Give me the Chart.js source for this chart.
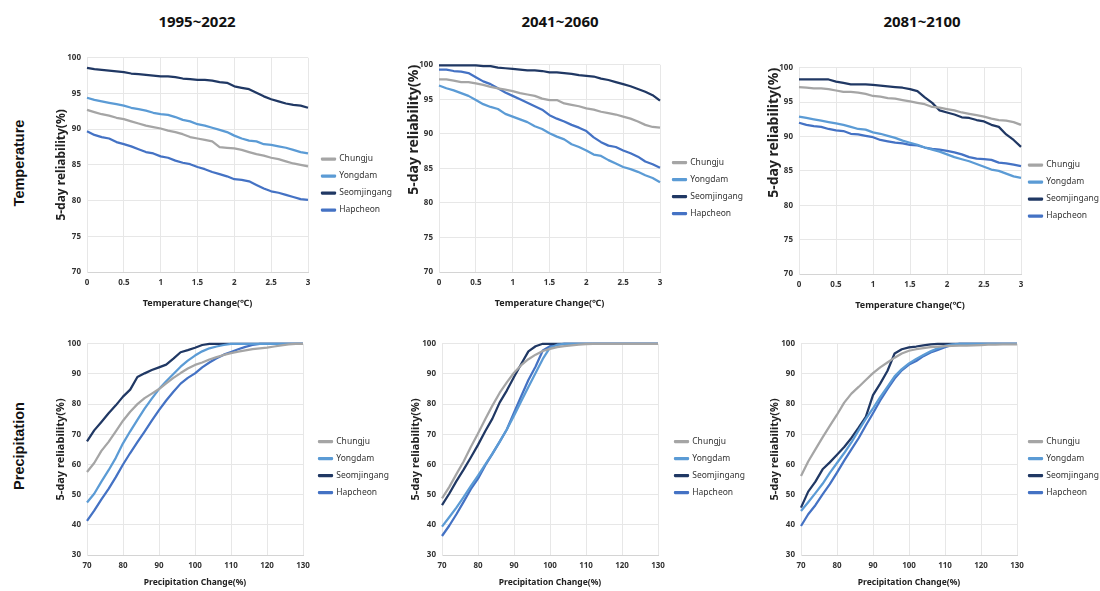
<!DOCTYPE html>
<html>
<head>
<meta charset="utf-8">
<script src="https://cdn.jsdelivr.net/npm/chart.js@4.4.0/dist/chart.umd.min.js"></script>
<style>
  html, body { margin: 0; padding: 0; background: #fff; }
  #page { position: relative; width: 1100px; height: 591px; overflow: hidden; background: #fff; }
  #page canvas { position: absolute; }
  .col-title { position: absolute; top: 11px; width: 200px; margin-left: -100px; text-align: center;
    font: bold 15px 'Noto Sans', sans-serif; color: #111; }
  .row-title { position: absolute; white-space: nowrap; transform: translate(-50%, -50%) rotate(-90deg);
    font: bold 14.5px 'Liberation Sans', Arial, sans-serif; color: #111; }
</style>
</head>
<body>
<div id="page"></div>
<script>
// Labels ----------------------
const STATIONS = ['Chungju', 'Yongdam', 'Seomjingang', 'Hapcheon'];
const PERIODS = ['1995~2022', '2041~2060', '2081~2100'];
const ROWS = ['Temperature', 'Precipitation'];

// x values and ticks ----------
const TEMP_X = [0, 0.1, 0.2, 0.3, 0.4, 0.5, 0.6, 0.7, 0.8, 0.9, 1, 1.1, 1.2, 1.3, 1.4, 1.5, 1.6, 1.7, 1.8, 1.9, 2, 2.1, 2.2, 2.3, 2.4, 2.5, 2.6, 2.7, 2.8, 2.9, 3];
const PRECIP_X = [70, 72, 74, 76, 78, 80, 82, 84, 86, 88, 90, 92, 94, 96, 98, 100, 102, 104, 106, 108, 110, 112, 114, 116, 118, 120, 122, 124, 126, 128, 130];
const TEMP_X_TICKS = [0, 0.5, 1, 1.5, 2, 2.5, 3];
const TEMP_Y_TICKS = [70, 75, 80, 85, 90, 95, 100];
const PRECIP_X_TICKS = [70, 80, 90, 100, 110, 120, 130];
const PRECIP_Y_TICKS = [30, 40, 50, 60, 70, 80, 90, 100];

// Temperature, 1995~2022
const t1995Chungju = [92.7, 92.4, 92.1, 91.9, 91.6, 91.4, 91.1, 90.8, 90.5, 90.3, 90.1, 89.8, 89.6, 89.3, 88.9, 88.7, 88.5, 88.3, 87.5, 87.4, 87.3, 87.1, 86.8, 86.5, 86.3, 86.0, 85.8, 85.5, 85.2, 85.0, 84.8];
const t1995Yongdam = [94.4, 94.1, 93.9, 93.7, 93.5, 93.3, 93.0, 92.8, 92.6, 92.3, 92.1, 92.0, 91.7, 91.3, 91.1, 90.7, 90.5, 90.2, 89.9, 89.6, 89.1, 88.7, 88.4, 88.3, 87.9, 87.8, 87.6, 87.4, 87.1, 86.8, 86.6];
const t1995Seomjingang = [98.6, 98.4, 98.3, 98.2, 98.1, 98.0, 97.8, 97.7, 97.6, 97.5, 97.4, 97.4, 97.3, 97.1, 97.0, 96.9, 96.9, 96.8, 96.6, 96.5, 96.0, 95.8, 95.6, 95.1, 94.6, 94.2, 93.9, 93.6, 93.4, 93.3, 93.0];
const t1995Hapcheon = [89.7, 89.2, 88.9, 88.7, 88.2, 87.9, 87.6, 87.2, 86.8, 86.6, 86.2, 86.0, 85.6, 85.3, 85.1, 84.7, 84.4, 84.0, 83.7, 83.4, 83.0, 82.9, 82.7, 82.2, 81.7, 81.3, 81.1, 80.8, 80.5, 80.2, 80.1];

// Temperature, 2041~2060
const t2041Chungju = [97.9, 97.9, 97.7, 97.5, 97.5, 97.3, 97.1, 96.8, 96.6, 96.4, 96.2, 95.9, 95.7, 95.5, 95.1, 94.9, 94.9, 94.4, 94.2, 94.0, 93.7, 93.5, 93.2, 93.0, 92.8, 92.5, 92.2, 91.8, 91.3, 91.0, 90.9];
const t2041Yongdam = [97.0, 96.6, 96.3, 95.9, 95.5, 94.9, 94.3, 93.9, 93.6, 92.9, 92.5, 92.1, 91.7, 91.1, 90.7, 90.1, 89.6, 89.2, 88.5, 88.1, 87.6, 87.0, 86.8, 86.2, 85.7, 85.2, 84.9, 84.5, 84.0, 83.6, 83.0];
const t2041Seomjingang = [99.9, 99.9, 99.9, 99.9, 99.9, 99.9, 99.8, 99.8, 99.6, 99.5, 99.4, 99.3, 99.2, 99.2, 99.1, 98.9, 98.9, 98.8, 98.7, 98.5, 98.4, 98.3, 98.0, 97.8, 97.5, 97.2, 96.9, 96.5, 96.1, 95.6, 94.8];
const t2041Hapcheon = [99.3, 99.3, 99.1, 99.0, 98.8, 98.2, 97.6, 97.2, 96.6, 96.0, 95.5, 95.0, 94.5, 94.0, 93.5, 92.7, 92.2, 91.8, 91.3, 90.9, 90.4, 89.5, 88.8, 88.3, 88.1, 87.6, 87.2, 86.7, 86.0, 85.6, 85.1];

// Temperature, 2081~2100
const t2081Chungju = [97.2, 97.1, 97.0, 97.0, 96.9, 96.7, 96.5, 96.5, 96.4, 96.2, 95.9, 95.8, 95.6, 95.5, 95.3, 95.1, 94.9, 94.7, 94.3, 94.2, 94.0, 93.8, 93.5, 93.3, 93.1, 92.9, 92.6, 92.4, 92.3, 92.1, 91.7];
const t2081Yongdam = [92.9, 92.7, 92.5, 92.3, 92.1, 91.9, 91.7, 91.4, 91.1, 91.0, 90.6, 90.4, 90.1, 89.8, 89.4, 89.1, 88.8, 88.4, 88.1, 87.8, 87.4, 87.0, 86.7, 86.4, 86.0, 85.6, 85.2, 85.0, 84.6, 84.2, 84.0];
const t2081Seomjingang = [98.3, 98.3, 98.3, 98.3, 98.3, 98.0, 97.8, 97.6, 97.6, 97.6, 97.5, 97.4, 97.3, 97.2, 97.1, 96.9, 96.6, 95.7, 94.9, 93.8, 93.5, 93.2, 92.8, 92.7, 92.4, 92.2, 91.7, 91.4, 90.3, 89.5, 88.5];
const t2081Hapcheon = [92.0, 91.7, 91.5, 91.4, 91.1, 90.9, 90.8, 90.4, 90.3, 90.1, 89.9, 89.5, 89.3, 89.1, 89.0, 88.8, 88.7, 88.4, 88.2, 88.1, 87.9, 87.7, 87.4, 87.0, 86.8, 86.7, 86.6, 86.2, 86.1, 85.9, 85.7];

// Precipitation, 1995~2022
const p1995Chungju = [57.5, 60.5, 64.5, 67.5, 71.0, 74.5, 77.5, 80.0, 82.0, 83.5, 85.0, 86.9, 88.7, 90.3, 91.8, 93.0, 93.8, 94.8, 95.6, 96.3, 96.9, 97.4, 97.8, 98.2, 98.5, 98.7, 99.1, 99.5, 99.8, 100, 100];
const p1995Yongdam = [47.4, 50.3, 54.3, 58.1, 62.2, 67.0, 71.0, 74.8, 78.5, 81.8, 85.0, 87.6, 90.0, 92.4, 94.4, 96.1, 97.5, 98.5, 99.1, 99.6, 100, 100, 100, 100, 100, 100, 100, 100, 100, 100, 100];
const p1995Seomjingang = [67.7, 71.3, 74.1, 77.0, 79.6, 82.5, 84.8, 89.0, 90.2, 91.3, 92.2, 93.1, 95.1, 97.2, 97.9, 98.7, 99.6, 100, 100, 100, 100, 100, 100, 100, 100, 100, 100, 100, 100, 100, 100];
const p1995Hapcheon = [41.3, 44.7, 48.4, 51.9, 55.8, 60.0, 63.8, 67.4, 70.9, 74.5, 78.0, 81.2, 84.1, 86.8, 88.7, 90.2, 92.2, 93.8, 95.2, 96.4, 97.3, 98.2, 99.0, 99.6, 100, 100, 100, 100, 100, 100, 100];

// Precipitation, 2041~2060
const p2041Chungju = [48.8, 52.5, 56.8, 61.0, 65.8, 70.3, 75.0, 79.5, 83.7, 87.2, 90.4, 92.9, 94.9, 96.4, 97.6, 98.3, 98.9, 99.2, 99.5, 99.7, 99.9, 100, 100, 100, 100, 100, 100, 100, 100, 100, 100];
const p2041Yongdam = [39.4, 42.5, 45.7, 49.2, 52.8, 56.3, 60.0, 63.6, 67.5, 71.6, 76.2, 81.0, 85.7, 90.3, 95.0, 98.7, 99.7, 100, 100, 100, 100, 100, 100, 100, 100, 100, 100, 100, 100, 100, 100];
const p2041Seomjingang = [46.5, 50.3, 54.5, 58.3, 62.3, 66.5, 71.0, 75.2, 80.5, 84.5, 89.0, 93.3, 97.5, 99.2, 100, 100, 100, 100, 100, 100, 100, 100, 100, 100, 100, 100, 100, 100, 100, 100, 100];
const p2041Hapcheon = [36.3, 39.7, 43.5, 47.6, 51.8, 55.3, 59.7, 63.5, 67.5, 71.6, 77.2, 82.6, 88.0, 92.5, 97.8, 99.2, 99.7, 100, 100, 100, 100, 100, 100, 100, 100, 100, 100, 100, 100, 100, 100];

// Precipitation, 2081~2100
const p2081Chungju = [56.2, 61.0, 65.0, 69.0, 72.8, 76.5, 80.5, 83.5, 85.7, 88.0, 90.3, 92.2, 93.8, 95.4, 96.8, 97.7, 98.2, 98.6, 98.9, 99.1, 99.2, 99.3, 99.4, 99.4, 99.5, 99.6, 99.7, 99.7, 99.8, 99.8, 99.8];
const p2081Yongdam = [44.6, 47.5, 50.5, 53.6, 57.2, 60.5, 63.8, 67.3, 71.3, 75.1, 78.6, 82.3, 85.7, 89.2, 91.6, 93.5, 95.0, 96.3, 97.5, 98.5, 99.3, 99.8, 100, 100, 100, 100, 100, 100, 100, 100, 100];
const p2081Seomjingang = [45.7, 51.0, 54.3, 58.4, 60.7, 63.2, 65.8, 68.8, 72.2, 75.8, 83.0, 86.8, 91.0, 96.8, 98.2, 98.8, 99.1, 99.5, 99.8, 100, 100, 100, 100, 100, 100, 100, 100, 100, 100, 100, 100];
const p2081Hapcheon = [39.6, 43.5, 46.5, 50.1, 53.5, 57.3, 61.3, 65.0, 68.7, 72.9, 77.0, 81.2, 85.0, 88.5, 91.2, 93.1, 94.3, 95.9, 97.1, 98.0, 98.9, 99.6, 100, 100, 100, 100, 100, 100, 100, 100, 100];

// Styles ----------------------
const COLORS = ['#A5A5A5', '#5B9BD5', '#203864', '#4472C4'];
const FONT = "'Noto Sans', sans-serif";
const TEXT_COLOR = '#333';
const GRID_COLOR = '#e7e7e7';
const Y_W = 36;
const PAD_T = 10;
const LEG_W = 62;
const PAD_R = 30;
const LEGEND_FONT = 8.5;

// panel layout: plot box [left, top, right, bottom] in page pixels
const PANELS = [
  { kind: 'temp', series: [t1995Chungju, t1995Yongdam, t1995Seomjingang, t1995Hapcheon], plot: [87, 57, 308, 272], xH: 40, yTitleSize: 12, yAlign: 'center', gap: 14 },
  { kind: 'temp', series: [t2041Chungju, t2041Yongdam, t2041Seomjingang, t2041Hapcheon], plot: [439, 64, 660, 272], xH: 40, yTitleSize: 14, yAlign: 'end', gap: 13 },
  { kind: 'temp', series: [t2081Chungju, t2081Yongdam, t2081Seomjingang, t2081Hapcheon], plot: [799, 67, 1021, 274], xH: 40, yTitleSize: 14, yAlign: 'end', gap: 8 },
  { kind: 'precip', series: [p1995Chungju, p1995Yongdam, p1995Seomjingang, p1995Hapcheon], plot: [87, 343, 303, 555], xH: 36, yTitleSize: 11, yAlign: 'center', gap: 16 },
  { kind: 'precip', series: [p2041Chungju, p2041Yongdam, p2041Seomjingang, p2041Hapcheon], plot: [442, 343, 658, 555], xH: 36, yTitleSize: 11, yAlign: 'center', gap: 17 },
  { kind: 'precip', series: [p2081Chungju, p2081Yongdam, p2081Seomjingang, p2081Hapcheon], plot: [801, 343, 1017, 555], xH: 36, yTitleSize: 11, yAlign: 'center', gap: 12 },
];

const $page = document.querySelector('#page');

// move the legend a bit right of the plot, like the original, and let its text run to the canvas edge
const legendGap = {
  id: 'legendGap',
  afterLayout(chart, args, opts) {
    const legend = chart.legend;
    legend.left += opts.gap - chart.options.plugins.legend.labels.padding;
    legend.right = chart.width;
    legend.width = legend.right - legend.left;
  },
};

const setTicks = list => scale => {
  scale.ticks = list.map(value => ({ value }));
};

const buildChart = panel => {
  const [L, T, R, B] = panel.plot;
  const isTemp = panel.kind === 'temp';
  const xs = isTemp ? TEMP_X : PRECIP_X;
  const xTicks = isTemp ? TEMP_X_TICKS : PRECIP_X_TICKS;
  const yTicks = isTemp ? TEMP_Y_TICKS : PRECIP_Y_TICKS;

  const $canvas = document.createElement('canvas');
  const w = Y_W + (R - L) + LEG_W + PAD_R;
  const h = PAD_T + (B - T) + panel.xH;
  $canvas.width = w;
  $canvas.height = h;
  $canvas.style.width = w + 'px';
  $canvas.style.height = h + 'px';
  $canvas.style.left = L - Y_W + 'px';
  $canvas.style.top = T - PAD_T + 'px';
  $page.appendChild($canvas);

  const datasets = STATIONS.map((name, i) => ({
    label: name,
    data: xs.map((x, j) => ({ x, y: panel.series[i][j] })),
    borderColor: COLORS[i],
    backgroundColor: COLORS[i],
    borderWidth: 2.25,
    pointRadius: 0,
    tension: 0,
    clip: false,
    borderJoinStyle: 'round',
  }));

  return new Chart($canvas, {
    type: 'line',
    data: { datasets },
    plugins: [legendGap],
    options: {
      responsive: false,
      animation: false,
      devicePixelRatio: 1,
      layout: { padding: { top: PAD_T, right: PAD_R, bottom: 0, left: 0 } },
      plugins: {
        legendGap: { gap: panel.gap },
        tooltip: { enabled: false },
        legend: {
          position: 'right',
          align: 'center',
          maxWidth: LEG_W,
          labels: {
            boxWidth: 13,
            boxHeight: 1,
            padding: 17 - LEGEND_FONT,
            color: TEXT_COLOR,
            font: { family: FONT, size: LEGEND_FONT },
          },
        },
      },
      scales: {
        x: {
          type: 'linear',
          min: xTicks[0],
          max: xTicks[xTicks.length - 1],
          afterBuildTicks: setTicks(xTicks),
          afterFit: scale => { scale.height = panel.xH; },
          grid: { color: GRID_COLOR, drawTicks: false },
          border: { color: '#d4d4d4' },
          ticks: {
            padding: 6,
            color: TEXT_COLOR,
            font: { family: FONT, size: 8, weight: 'bold' },
            callback: value => String(value),
          },
          title: {
            display: true,
            text: isTemp ? 'Temperature Change(℃)' : 'Precipitation Change(%)',
            color: '#222',
            font: { family: FONT, size: isTemp ? 9 : 8.5, weight: 'bold' },
            padding: { top: 2, bottom: 3 },
          },
        },
        y: {
          min: yTicks[0],
          max: yTicks[yTicks.length - 1],
          afterBuildTicks: setTicks(yTicks),
          afterFit: scale => { scale.width = Y_W; },
          grid: { color: GRID_COLOR, drawTicks: false },
          border: { color: GRID_COLOR },
          ticks: {
            padding: 6,
            color: TEXT_COLOR,
            font: { family: FONT, size: 8, weight: 'bold' },
          },
          title: {
            display: true,
            text: '5-day reliability(%)',
            align: panel.yAlign,
            color: '#222',
            font: { family: FONT, size: panel.yTitleSize, weight: 'bold' },
            padding: { top: 3, bottom: 0 },
          },
        },
      },
    },
  });
};

// titles ----------------------
const colCenters = [197, 560, 922];
PERIODS.forEach((text, i) => {
  const $t = document.createElement('div');
  $t.className = 'col-title';
  $t.style.left = colCenters[i] + 'px';
  $t.textContent = text;
  $page.appendChild($t);
});

const rowCenters = [163, 446];
ROWS.forEach((text, i) => {
  const $t = document.createElement('div');
  $t.className = 'row-title';
  $t.style.left = '19px';
  $t.style.top = rowCenters[i] + 'px';
  $t.textContent = text;
  $page.appendChild($t);
});

PANELS.forEach(buildChart);
</script>
</body>
</html>
